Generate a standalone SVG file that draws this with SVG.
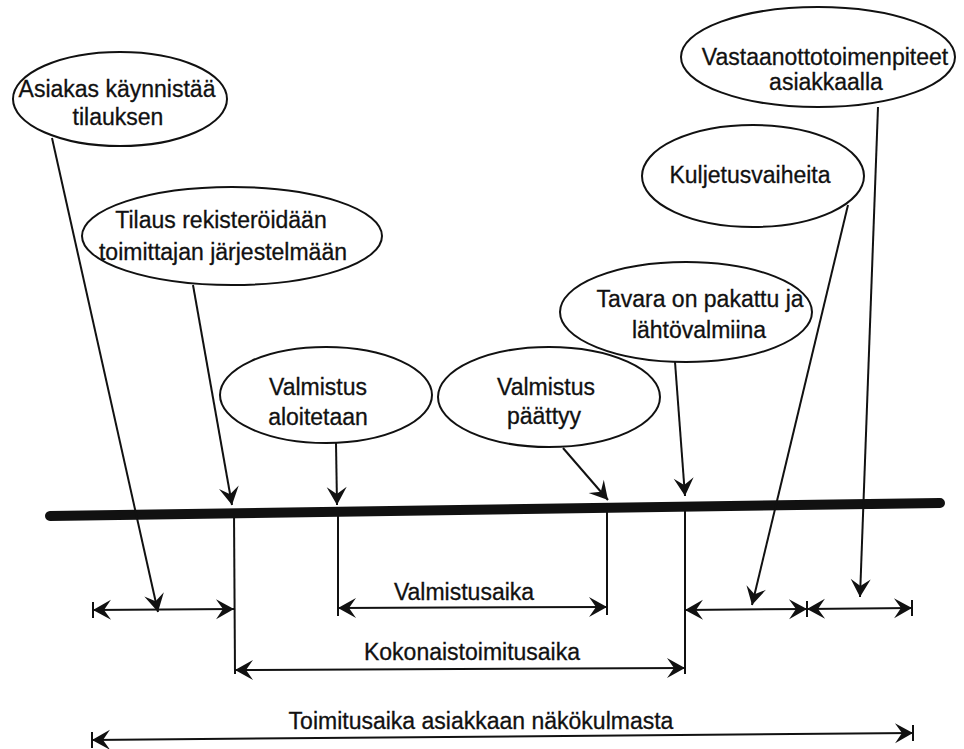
<svg xmlns="http://www.w3.org/2000/svg" width="964" height="749" viewBox="0 0 964 749">
<style>
  .node ellipse { fill: #ffffff; stroke: #111; stroke-width: 2; }
  text { font-family: "Liberation Sans", Arial, sans-serif; font-size: 23px; fill: #111; text-anchor: middle; stroke: #111; stroke-width: 0.3; }
  .ln { stroke: #111; stroke-width: 2; fill: none; }
  .arr { marker-end: url(#ah); }
  .dim { stroke: #111; stroke-width: 2; fill: none; marker-start: url(#ahs); marker-end: url(#ah); }
  .tick { stroke: #111; stroke-width: 2; }
</style>
<defs>
  <marker id="ah" markerUnits="userSpaceOnUse" markerWidth="22" markerHeight="24" viewBox="-20 -12 22 24" refX="0" refY="0" orient="auto">
    <path d="M0,0 L-18,-10 L-11,0 L-18,10 Z" fill="#111"/>
  </marker>
  <marker id="ahs" markerUnits="userSpaceOnUse" markerWidth="22" markerHeight="24" viewBox="-20 -12 22 24" refX="0" refY="0" orient="auto-start-reverse">
    <path d="M0,0 L-18,-10 L-11,0 L-18,10 Z" fill="#111"/>
  </marker>
</defs>
<rect width="964" height="749" fill="#ffffff"/>

<g id="timeline">
  <line x1="50" y1="516" x2="940" y2="503" stroke="#111" stroke-width="10" stroke-linecap="round"/>
</g>

<g id="nodes">
  <g id="n1" class="node">
    <ellipse cx="120" cy="99" rx="107" ry="47"/>
    <text x="117" y="97">Asiakas käynnistää</text>
    <text x="118" y="125">tilauksen</text>
  </g>
  <g id="n2" class="node">
    <ellipse cx="232" cy="236" rx="150" ry="49"/>
    <text x="221" y="228">Tilaus rekisteröidään</text>
    <text x="223" y="260">toimittajan järjestelmään</text>
  </g>
  <g id="n3" class="node">
    <ellipse cx="818" cy="57" rx="137" ry="50"/>
    <text x="825" y="65">Vastaanottotoimenpiteet</text>
    <text x="826" y="90">asiakkaalla</text>
  </g>
  <g id="n4" class="node">
    <ellipse cx="753" cy="176" rx="111" ry="51"/>
    <text x="750" y="183">Kuljetusvaiheita</text>
  </g>
  <g id="n7" class="node">
    <ellipse cx="549" cy="397" rx="111" ry="50"/>
    <text x="546" y="395">Valmistus</text>
    <text x="544" y="424">päättyy</text>
  </g>
  <g id="n5" class="node">
    <ellipse cx="686" cy="312" rx="126" ry="50"/>
    <text x="700" y="307">Tavara on pakattu ja</text>
    <text x="699" y="338">lähtövalmiina</text>
  </g>
  <g id="n6" class="node">
    <ellipse cx="326" cy="395" rx="106" ry="48"/>
    <text x="318" y="395">Valmistus</text>
    <text x="318" y="425">aloitetaan</text>
  </g>
</g>

<g id="connectors">
  <line class="ln arr" x1="52" y1="138" x2="158" y2="612"/>
  <line class="ln arr" x1="193" y1="285" x2="232" y2="505"/>
  <line class="ln arr" x1="336" y1="443" x2="337" y2="505"/>
  <line class="ln arr" x1="563" y1="448" x2="608" y2="500"/>
  <line class="ln arr" x1="675" y1="362" x2="685" y2="496"/>
  <line class="ln arr" x1="848" y1="205" x2="752" y2="605"/>
  <line class="ln arr" x1="878" y1="107" x2="860" y2="597"/>

  <line class="ln" x1="234" y1="512" x2="235" y2="674"/>
  <line class="ln" x1="338" y1="510" x2="338" y2="616"/>
  <line class="ln" x1="607" y1="508" x2="607" y2="615"/>
  <line class="ln" x1="685" y1="506" x2="685" y2="674"/>

  <line class="dim" x1="93" y1="610" x2="234" y2="609"/>
  <line class="tick" x1="93" y1="602" x2="93" y2="618"/>

  <line class="dim" x1="338" y1="608" x2="607" y2="607"/>

  <line class="dim" x1="685" y1="610" x2="807" y2="609"/>
  <line class="tick" x1="807" y1="601" x2="807" y2="617"/>
  <line class="dim" x1="807" y1="609" x2="912" y2="608"/>
  <line class="tick" x1="912" y1="600" x2="912" y2="616"/>

  <line class="dim" x1="235" y1="670" x2="685" y2="668"/>

  <line class="dim" x1="92" y1="740" x2="913" y2="733"/>
  <line class="tick" x1="92" y1="732" x2="92" y2="748"/>
  <line class="tick" x1="913" y1="725" x2="913" y2="741"/>
</g>

<g id="labels">
  <text x="464" y="600">Valmistusaika</text>
  <text x="472" y="660">Kokonaistoimitusaika</text>
  <text x="481" y="729">Toimitusaika asiakkaan näkökulmasta</text>
</g>
</svg>
